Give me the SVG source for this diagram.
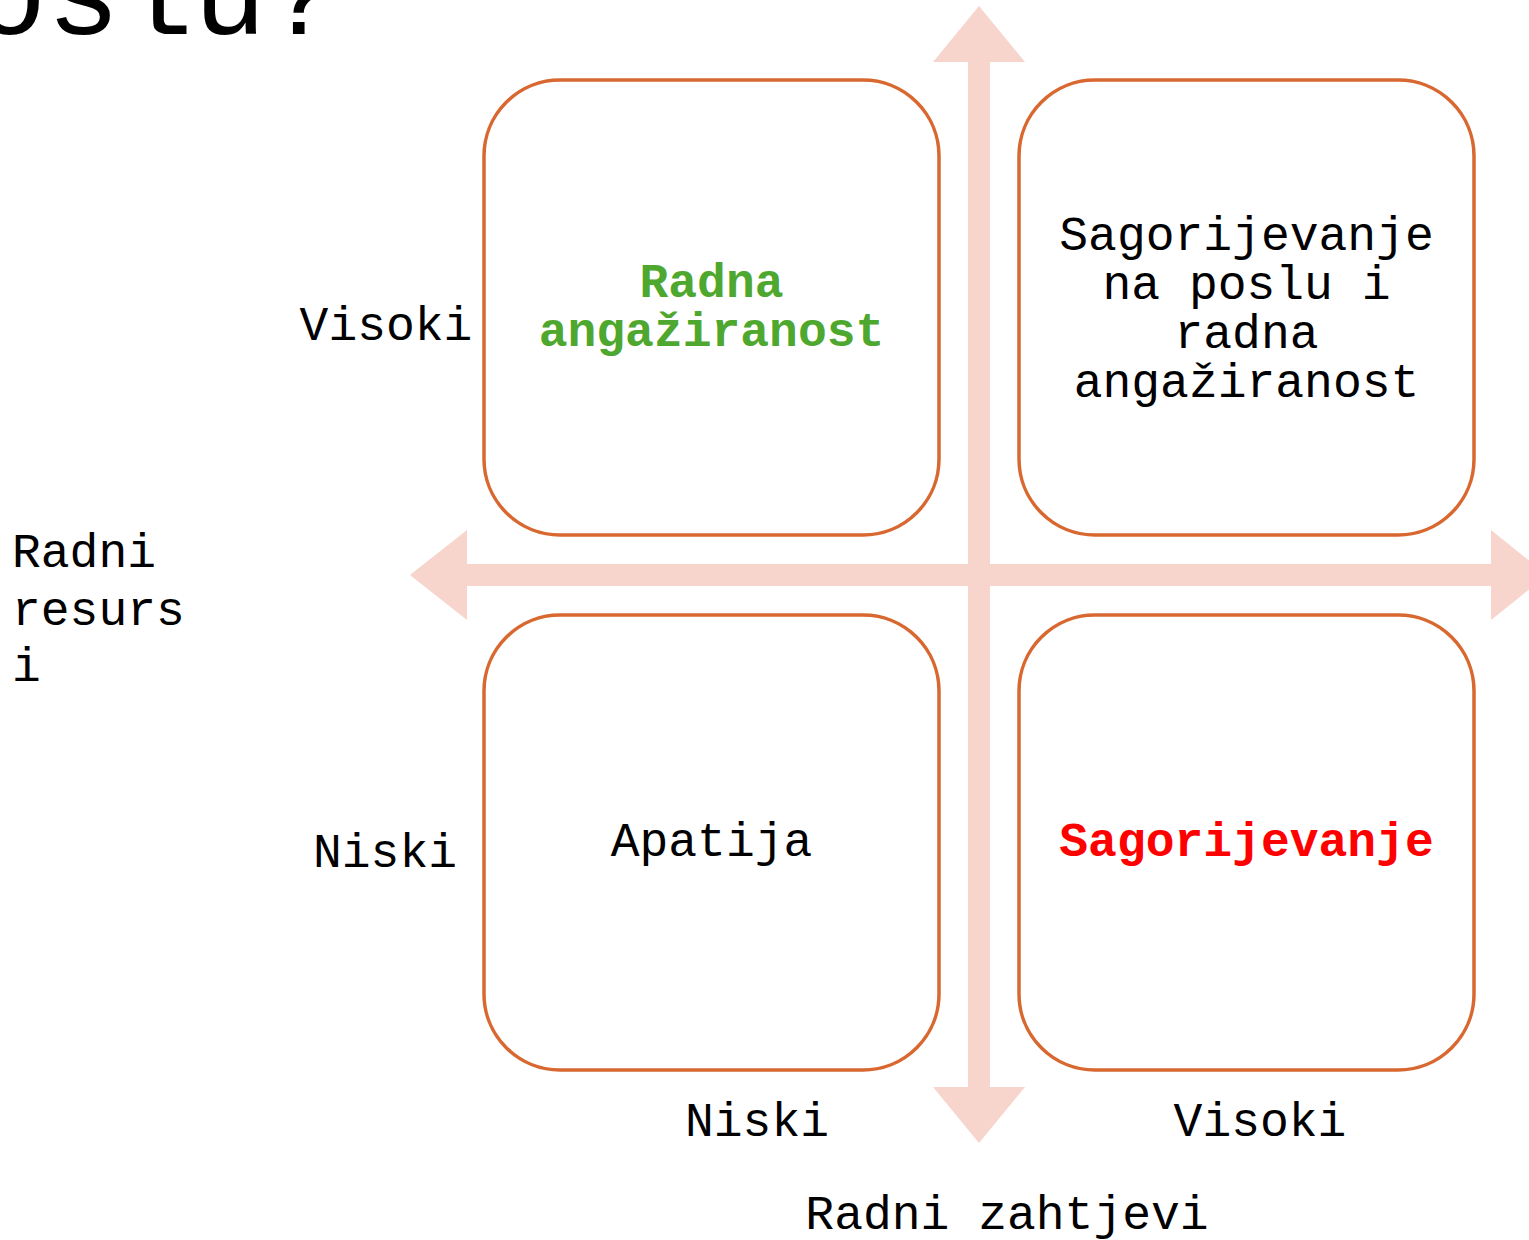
<svg xmlns="http://www.w3.org/2000/svg" width="1529" height="1240" viewBox="0 0 1529 1240">
<style>
.t{font-family:"Liberation Mono","Courier New",monospace;font-size:48px;fill:#000;text-anchor:middle}
.b{font-weight:bold}
.box{fill:#fff;stroke:#D86830;stroke-width:3.5}
.ax{fill:#F7D4CC}
</style>
<rect width="1529" height="1240" fill="#fff"/>
<text x="-26.5" y="34" style="font-family:'Liberation Mono','Courier New',monospace;font-size:122px" fill="#000">oslu?</text>
<g id="connectors">
<path class="ax" d="M979,6 L1025,62 L990,62 L990,564 L1491,564 L1491,530 L1547,575 L1491,620 L1491,586 L990,586 L990,1087 L1025,1087 L979,1143 L933,1087 L968,1087 L968,586 L467,586 L467,620 L410,575 L467,530 L467,564 L968,564 L968,62 L933,62 Z"/>
</g>
<g id="node-engagement">
<rect class="box" x="484" y="80" width="455" height="455" rx="76"/>
<text class="t b" x="711.5" y="297" style="fill:#4EA72E">Radna</text>
<text class="t b" x="711.5" y="346" style="fill:#4EA72E">angažiranost</text>
</g>
<g id="node-both">
<rect class="box" x="1019" y="80" width="455" height="455" rx="76"/>
<text class="t" x="1246.5" y="250">Sagorijevanje</text>
<text class="t" x="1246.5" y="299">na poslu i</text>
<text class="t" x="1246.5" y="348">radna</text>
<text class="t" x="1246.5" y="397">angažiranost</text>
</g>
<g id="node-apathy">
<rect class="box" x="484" y="615" width="455" height="455" rx="76"/>
<text class="t" x="711.5" y="856">Apatija</text>
</g>
<g id="node-burnout">
<rect class="box" x="1019" y="615" width="455" height="455" rx="76"/>
<text class="t b" x="1246.5" y="856" style="fill:#FF0000">Sagorijevanje</text>
</g>
<g id="labels">
<text class="t" x="386" y="340">Visoki</text>
<text class="t" x="385" y="867">Niski</text>
<text class="t" x="757" y="1136">Niski</text>
<text class="t" x="1260" y="1136">Visoki</text>
<text class="t" x="1007" y="1229">Radni zahtjevi</text>
<text class="t" x="12" y="567" style="text-anchor:start">Radni</text>
<text class="t" x="12" y="625" style="text-anchor:start">resurs</text>
<text class="t" x="12" y="681" style="text-anchor:start">i</text>
</g>
</svg>
